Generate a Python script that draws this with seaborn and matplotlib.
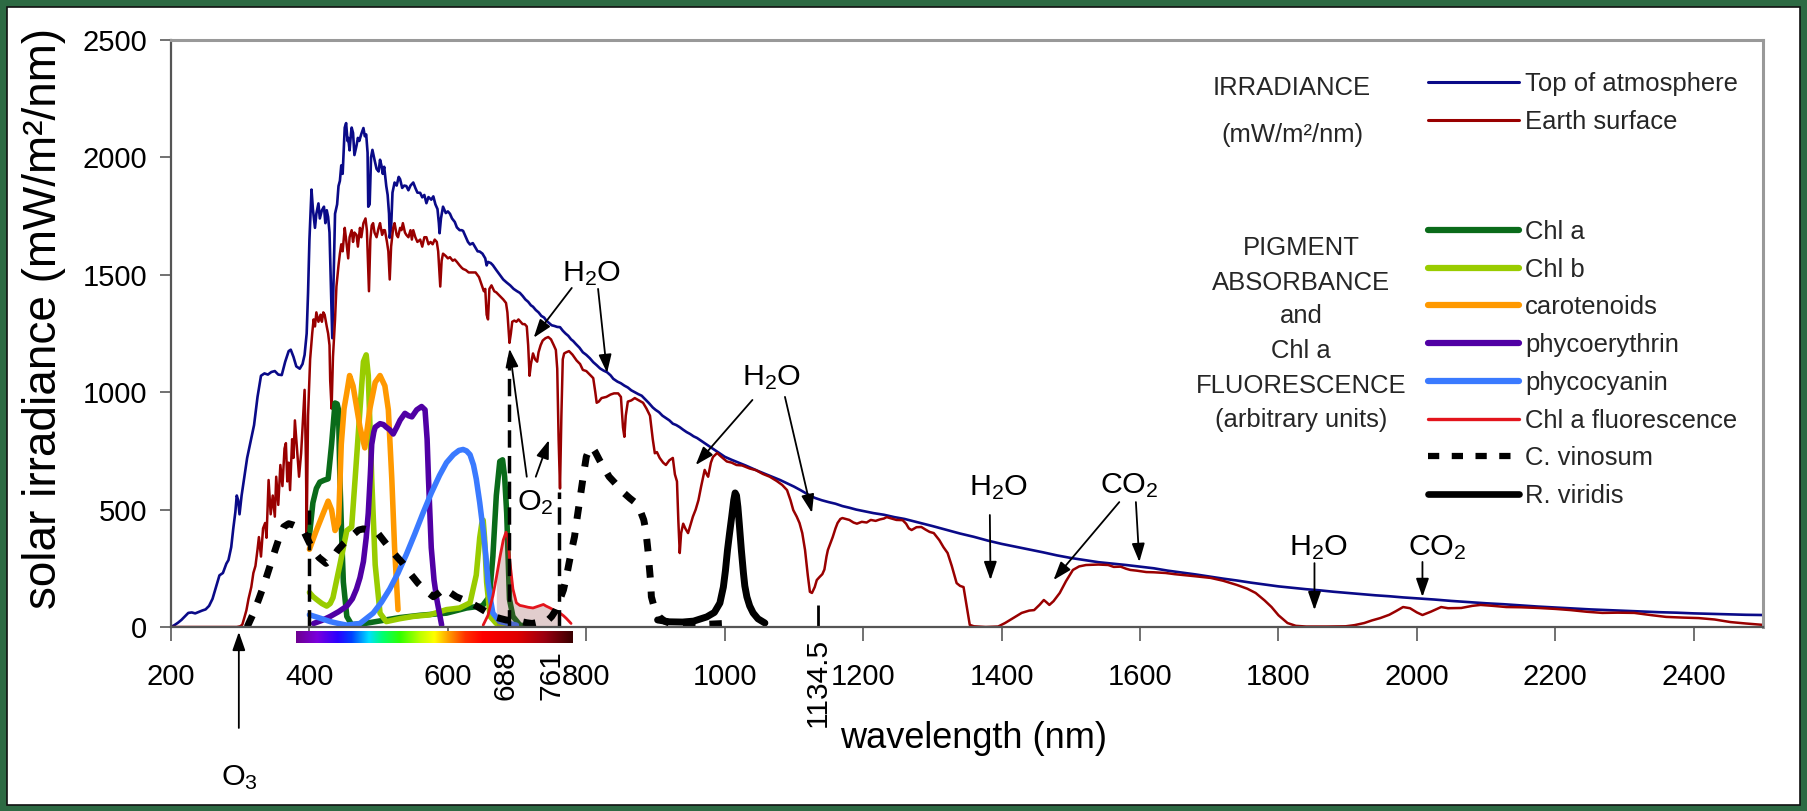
import matplotlib
matplotlib.use("Agg")
import matplotlib.pyplot as plt
from matplotlib import font_manager
from matplotlib.lines import Line2D
from matplotlib.patches import Rectangle
from matplotlib.colors import LinearSegmentedColormap
from matplotlib.transforms import offset_copy
import seaborn as sns
import numpy as np
import pandas as pd

W, H = 1807, 811

# ---------------- data (wavelength nm, value) ----------------
top_of_atmosphere = [
    (200, 0), (205, 8), (210, 18), (215, 30), (220, 45), (225, 60), (230, 62), (235, 58), (240, 64), (245, 70),
    (250, 75), (255, 90), (260, 120), (265, 170), (270, 220), (275, 230), (280, 270), (283, 285), (287, 340),
    (290, 420), (293, 490), (295, 560), (297, 540), (299, 480), (302, 560), (305, 620), (310, 720), (315, 790),
    (320, 860), (325, 980), (330, 1070), (335, 1080), (340, 1075), (345, 1086), (350, 1090), (355, 1075),
    (360, 1073), (365, 1130), (370, 1175), (373, 1181), (377, 1150), (381, 1110), (386, 1100), (390, 1120),
    (393, 1159), (396, 1250), (398, 1423), (400, 1650), (403, 1863), (405, 1780), (408, 1700), (410, 1760),
    (413, 1804), (415, 1740), (418, 1775), (421, 1790), (423, 1720), (425, 1775), (427, 1746), (429, 1680),
    (431, 1450), (433, 1230), (435, 1500), (437, 1760), (440, 1800), (442, 1878), (444, 1900), (446, 1966),
    (448, 1930), (450, 2060), (451, 2127), (453, 2146), (455, 2070), (456, 2083), (458, 2030), (460, 2100),
    (461, 2127), (463, 2104), (465, 2010), (466, 2024), (468, 2050), (470, 2083), (472, 2070), (475, 2100),
    (478, 2125), (480, 2090), (482, 2098), (484, 2020), (485, 1790), (487, 1800), (489, 2000), (491, 2032),
    (494, 1990), (497, 1951), (500, 1940), (502, 1990), (504, 1966), (506, 1930), (508, 1960), (511, 1878),
    (513, 1840), (515, 1760), (516, 1658), (518, 1700), (520, 1850), (523, 1893), (526, 1880), (529, 1917),
    (531, 1907), (534, 1870), (537, 1880), (540, 1878), (543, 1860), (546, 1880), (550, 1893), (553, 1870),
    (556, 1850), (560, 1849), (563, 1830), (566, 1840), (569, 1805), (572, 1831), (576, 1820), (579, 1834),
    (582, 1800), (585, 1780), (587, 1720), (588, 1677), (590, 1740), (593, 1790), (597, 1763), (600, 1770),
    (603, 1760), (606, 1740), (610, 1725), (613, 1702), (617, 1690), (620, 1690), (622, 1687), (626, 1660),
    (629, 1640), (632, 1629), (636, 1635), (640, 1615), (643, 1600), (646, 1599), (650, 1590), (654, 1570),
    (656, 1540), (658, 1555), (662, 1550), (665, 1541), (670, 1520), (675, 1500), (680, 1480), (685, 1467),
    (690, 1455), (695, 1440), (700, 1430), (704, 1423), (708, 1410), (712, 1395), (716, 1385), (720, 1370),
    (723, 1364), (727, 1350), (731, 1340), (735, 1325), (739, 1318), (742, 1306), (746, 1295), (750, 1285),
    (754, 1282), (758, 1278), (762, 1277), (766, 1262), (770, 1250), (774, 1240), (778, 1225), (781, 1218),
    (785, 1205), (790, 1190), (795, 1170), (800, 1159), (805, 1145), (810, 1128), (815, 1115), (820, 1101),
    (825, 1092), (830, 1085), (835, 1072), (839, 1057), (845, 1045), (850, 1038), (855, 1028), (860, 1020),
    (865, 1008), (870, 1000), (875, 992), (880, 985), (885, 970), (890, 955), (896, 935), (900, 925),
    (905, 915), (910, 900), (915, 890), (920, 880), (925, 866), (930, 860), (935, 851), (940, 840), (945, 830),
    (950, 822), (955, 812), (960, 805), (965, 795), (970, 785), (975, 775), (980, 765), (985, 755), (990, 745),
    (995, 735), (1000, 725), (1010, 712), (1020, 700), (1030, 688), (1040, 675), (1050, 662), (1060, 650),
    (1070, 638), (1080, 626), (1090, 612), (1100, 598), (1110, 582), (1120, 565), (1130, 550), (1140, 540),
    (1150, 532), (1160, 525), (1170, 515), (1180, 508), (1190, 500), (1200, 494), (1215, 485), (1230, 478),
    (1245, 468), (1260, 460), (1280, 445), (1300, 430), (1320, 414), (1340, 398), (1360, 384), (1380, 368),
    (1400, 354), (1420, 342), (1440, 330), (1460, 318), (1480, 305), (1500, 294), (1520, 285), (1540, 276),
    (1560, 270), (1580, 264), (1600, 257), (1620, 250), (1640, 240), (1660, 232), (1680, 224), (1700, 215),
    (1720, 206), (1740, 198), (1760, 189), (1780, 181), (1800, 173), (1820, 167), (1840, 161), (1860, 156),
    (1880, 150), (1900, 145), (1920, 140), (1940, 135), (1960, 131), (1980, 126), (2000, 122), (2025, 117),
    (2050, 111), (2075, 106), (2100, 101), (2125, 97), (2150, 92), (2175, 87), (2200, 83), (2225, 79),
    (2250, 75), (2275, 72), (2300, 69), (2325, 66), (2350, 63), (2375, 61), (2400, 58), (2425, 56),
    (2450, 54), (2475, 52), (2500, 51)]

earth_surface = [
    (200, 0), (295, 0), (300, 3), (303, 10), (306, 40), (309, 72), (312, 120), (316, 170), (319, 230),
    (322, 260), (325, 330), (327, 383), (330, 300), (333, 420), (336, 443), (338, 380), (341, 626), (344, 480),
    (347, 560), (350, 470), (352, 640), (355, 520), (358, 690), (361, 600), (364, 760), (366, 783), (368, 620),
    (370, 700), (372, 583), (375, 800), (377, 720), (379, 880), (382, 760), (385, 640), (388, 740), (391, 900),
    (393, 1010), (395, 700), (396, 400), (398, 900), (401, 1140), (404, 1250), (406, 1310), (408, 1280),
    (410, 1340), (413, 1300), (416, 1330), (418, 1300), (420, 1340), (422, 1330), (425, 1280), (427, 1250),
    (429, 1200), (430, 1050), (432, 930), (434, 1150), (437, 1310), (439, 1450), (442, 1540), (444, 1590),
    (446, 1630), (448, 1600), (451, 1700), (453, 1650), (456, 1570), (458, 1660), (461, 1690), (463, 1640),
    (465, 1680), (468, 1670), (470, 1620), (473, 1700), (475, 1660), (478, 1720), (481, 1740), (483, 1690),
    (486, 1430), (488, 1650), (490, 1710), (492, 1720), (494, 1680), (497, 1660), (500, 1700), (502, 1720),
    (505, 1670), (507, 1690), (509, 1690), (512, 1640), (514, 1600), (516, 1480), (518, 1620), (521, 1700),
    (523, 1720), (526, 1670), (528, 1660), (531, 1700), (533, 1690), (535, 1720), (538, 1680), (540, 1670),
    (543, 1660), (546, 1690), (548, 1650), (550, 1690), (553, 1660), (556, 1640), (560, 1650), (563, 1620),
    (566, 1660), (569, 1660), (572, 1630), (575, 1640), (578, 1630), (581, 1650), (584, 1640), (586, 1600),
    (589, 1450), (591, 1560), (593, 1590), (597, 1580), (600, 1570), (603, 1575), (607, 1560), (610, 1565),
    (613, 1555), (617, 1540), (620, 1530), (622, 1525), (626, 1520), (630, 1510), (635, 1510), (640, 1510),
    (645, 1490), (649, 1455), (652, 1430), (654, 1440), (656, 1330), (658, 1310), (660, 1440), (663, 1455),
    (667, 1430), (670, 1425), (675, 1410), (680, 1395), (684, 1380), (686, 1340), (688, 1250), (689, 1210),
    (691, 1250), (693, 1300), (696, 1305), (699, 1300), (702, 1310), (705, 1300), (708, 1290), (711, 1290),
    (714, 1280), (716, 1200), (718, 1070), (720, 1120), (723, 1165), (726, 1140), (729, 1130), (731, 1170),
    (734, 1200), (737, 1220), (741, 1230), (745, 1235), (749, 1225), (753, 1200), (756, 1180), (758, 1100),
    (760, 800), (762, 590), (764, 900), (766, 1140), (768, 1165), (771, 1170), (775, 1175), (780, 1160),
    (786, 1135), (791, 1120), (795, 1095), (800, 1090), (805, 1075), (810, 1060), (813, 1000), (815, 955),
    (818, 960), (822, 975), (829, 980), (835, 990), (840, 995), (846, 995), (850, 980), (853, 850), (855, 810),
    (857, 900), (860, 960), (865, 965), (870, 975), (876, 965), (882, 955), (887, 930), (892, 900), (896, 800),
    (899, 740), (902, 745), (906, 720), (911, 700), (915, 690), (920, 710), (925, 720), (928, 650), (931, 620),
    (933, 450), (935, 315), (937, 400), (940, 440), (943, 420), (947, 400), (950, 430), (954, 470), (958, 500),
    (962, 540), (966, 600), (971, 669), (974, 650), (976, 640), (980, 700), (983, 724), (989, 741), (995, 725),
    (1003, 705), (1010, 700), (1017, 690), (1025, 688), (1036, 675), (1045, 668), (1055, 652), (1065, 640),
    (1075, 622), (1083, 605), (1090, 583), (1095, 540), (1099, 498), (1104, 470), (1108, 443), (1112, 400),
    (1116, 328), (1120, 220), (1123, 150), (1126, 145), (1130, 170), (1133, 200), (1137, 213), (1141, 225),
    (1144, 245), (1147, 300), (1149, 328), (1153, 360), (1156, 383), (1160, 420), (1163, 443), (1167, 460),
    (1170, 464), (1175, 460), (1180, 456), (1186, 445), (1191, 440), (1198, 448), (1205, 445), (1211, 456),
    (1218, 452), (1224, 458), (1230, 462), (1234, 468), (1240, 463), (1248, 456), (1257, 455), (1262, 440),
    (1266, 420), (1270, 413), (1277, 425), (1284, 426), (1290, 415), (1296, 405), (1302, 400), (1310, 370),
    (1316, 340), (1322, 315), (1328, 260), (1335, 187), (1340, 175), (1345, 170), (1350, 80), (1354, 9),
    (1360, 3), (1377, 0), (1395, 2), (1405, 17), (1418, 40), (1429, 60), (1440, 70), (1447, 72), (1455, 95),
    (1461, 115), (1465, 105), (1469, 94), (1475, 110), (1484, 145), (1493, 195), (1503, 243), (1512, 258),
    (1522, 264), (1540, 266), (1554, 264), (1562, 256), (1572, 257), (1580, 248), (1586, 243), (1595, 240),
    (1602, 237), (1609, 234), (1620, 233), (1637, 230), (1650, 225), (1664, 221), (1680, 216), (1702, 209),
    (1720, 197), (1740, 179), (1755, 163), (1767, 145), (1780, 113), (1790, 85), (1800, 50), (1813, 17),
    (1825, 5), (1840, 2), (1870, 2), (1897, 3), (1910, 8), (1924, 17), (1935, 28), (1947, 38), (1960, 52),
    (1970, 68), (1980, 85), (1990, 80), (2000, 62), (2008, 51), (2020, 65), (2035, 85), (2045, 80),
    (2064, 81), (2080, 90), (2092, 94), (2110, 90), (2129, 85), (2150, 84), (2176, 81), (2200, 77),
    (2222, 72), (2245, 65), (2268, 60), (2290, 61), (2314, 60), (2340, 50), (2360, 43), (2385, 40),
    (2407, 38), (2430, 32), (2453, 21), (2475, 15), (2500, 9)]

chl_a = [
    (400, 389), (405, 529), (410, 590), (415, 617), (421, 625), (427, 631), (432, 778), (437, 954), (440, 950),
    (442, 925), (444, 631), (447, 350), (449, 191), (454, 45), (461, 10), (480, 15), (500, 25), (530, 40),
    (560, 50), (598, 59), (627, 81), (650, 90), (660, 130), (665, 300), (670, 560), (675, 705), (679, 712),
    (682, 640), (685, 485), (689, 118), (694, 45), (704, 8), (712, 5)]

chl_b = [
    (400, 147), (405, 130), (410, 118), (418, 100), (425, 89), (430, 100), (434, 125), (444, 265), (454, 411),
    (461, 426), (466, 631), (473, 925), (478, 1130), (482, 1159), (485, 1071), (490, 631), (495, 265),
    (502, 59), (511, 23), (530, 35), (550, 45), (574, 52), (598, 74), (617, 81), (632, 103), (641, 221),
    (646, 380), (649, 441), (651, 455), (653, 380), (656, 191), (661, 45), (670, 15), (690, 8)]

carotenoids = [
    (400, 331), (410, 411), (420, 485), (427, 536), (432, 499), (437, 411), (442, 441), (446, 778),
    (450, 930), (454, 998), (458, 1071), (463, 1027), (468, 940), (473, 851), (480, 763), (487, 925),
    (495, 1042), (502, 1071), (509, 1027), (514, 925), (519, 631), (523, 338), (528, 74)]

phycoerythrin = [
    (406, 15), (418, 28), (430, 45), (442, 65), (454, 89), (462, 120), (468, 162), (473, 210), (478, 279),
    (482, 380), (485, 485), (488, 650), (490, 778), (493, 830), (495, 851), (502, 866), (507, 862),
    (511, 851), (516, 840), (521, 822), (526, 850), (531, 881), (538, 910), (543, 900), (548, 895),
    (555, 925), (562, 939), (567, 925), (570, 800), (572, 631), (576, 338), (580, 200), (584, 118),
    (591, 8)]

phycocyanin = [
    (400, 52), (415, 38), (430, 23), (442, 15), (454, 8), (473, 15), (492, 59), (504, 105), (516, 162),
    (528, 230), (540, 309), (552, 395), (564, 485), (576, 570), (588, 646), (598, 700), (608, 734),
    (616, 752), (622, 756), (627, 750), (632, 734), (637, 690), (641, 631), (646, 530), (651, 411),
    (655, 300), (658, 191), (662, 110), (665, 59), (675, 23), (699, 8)]

chl_a_fluorescence = [
    (651, 8), (658, 50), (665, 132), (670, 210), (675, 294), (680, 370), (684, 404), (687, 380), (689, 294),
    (692, 215), (694, 162), (699, 103), (704, 92), (709, 89), (716, 84), (723, 81), (730, 88), (738, 96),
    (742, 89), (747, 82), (752, 74), (757, 66), (762, 59), (767, 48), (771, 37), (778, 15)]

c_vinosum = [
    (310, 0), (319, 58), (327, 120), (335, 186), (343, 260), (352, 342), (358, 395), (363, 427), (370, 440),
    (377, 434), (384, 425), (391, 413), (398, 370), (405, 328), (414, 295), (424, 271), (432, 290),
    (441, 328), (450, 358), (460, 385), (471, 413), (478, 418), (485, 413), (492, 408), (499, 399),
    (508, 365), (518, 328), (526, 300), (535, 271), (545, 230), (557, 186), (568, 155), (579, 129),
    (587, 145), (595, 165), (604, 145), (612, 129), (623, 115), (634, 101), (642, 88), (651, 72), (659, 58),
    (667, 44), (676, 36), (684, 30), (695, 26), (706, 23), (714, 18), (722, 15), (733, 22), (745, 30),
    (750, 45), (756, 72), (761, 110), (767, 158), (771, 210), (775, 271), (779, 330), (783, 385), (787, 470),
    (792, 569), (796, 650), (800, 725), (804, 755), (808, 768), (813, 745), (819, 711), (826, 675),
    (833, 640), (844, 605), (855, 569), (863, 548), (872, 527), (878, 495), (883, 456), (886, 410),
    (888, 356), (890, 300), (891, 257), (893, 190), (894, 129), (898, 85), (905, 44), (913, 25), (921, 15),
    (943, 13), (971, 11), (999, 15)]

r_viridis = [
    (903, 30), (920, 22), (939, 21), (955, 25), (974, 43), (985, 62), (993, 102), (998, 170), (1001, 240),
    (1004, 328), (1007, 400), (1010, 468), (1013, 540), (1015, 571), (1017, 560), (1019, 511), (1021, 440),
    (1024, 328), (1027, 230), (1029, 175), (1032, 128), (1036, 90), (1041, 60), (1048, 35), (1058, 17)]

x_ticks = [200, 400, 600, 800, 1000, 1200, 1400, 1600, 1800, 2000, 2200, 2400]
y_ticks = [0, 500, 1000, 1500, 2000, 2500]
marked_nm = ["688", "761", "1134.5"]
vline_nm = [400, 688, 761]
vline_top = [500, 1150, 575]
spectrum_nm = [380, 410, 440, 460, 485, 505, 530, 560, 580, 600, 625, 650, 700, 740, 780]
spectrum_colors = ["#6e0090", "#7a00dd", "#2a00ff", "#0040ff", "#00e0ff", "#00ff70", "#30ff00", "#c0ff00",
                   "#ffff00", "#ffa000", "#ff3000", "#ff0000", "#e00000", "#9a0010", "#3a0000"]

irr_labels = ["Top of atmosphere", "Earth surface"]
pig_labels = ["Chl a", "Chl b", "carotenoids", "phycoerythrin", "phycocyanin",
              "Chl a fluorescence", "C. vinosum", "R. viridis"]

# ---------------- style ----------------
sns.set_theme(style="white")
names = {f.name for f in font_manager.fontManager.ttflist}
NARROW = "Liberation Sans Narrow" in names
HF = "Liberation Sans Narrow" if NARROW else "Liberation Sans"
K = 1.0 if NARROW else 0.84
plt.rcParams["font.family"] = [HF, "DejaVu Sans"]
plt.rcParams["mathtext.fontset"] = "custom"
plt.rcParams["mathtext.rm"] = HF
plt.rcParams["mathtext.it"] = HF
plt.rcParams["mathtext.bf"] = HF

C_TOA, C_SURF = "#0a0a88", "#990000"
C_CHLA, C_CHLB, C_CAR = "#0a6b1a", "#99cc00", "#ff9900"
C_PE, C_PC, C_FL = "#5000a4", "#3a7aff", "#e3141c"
DOT = (0, (1.8, 2.0))
DASH = (0, (5, 2.4))


def FX(px):
    return px / W


def FY(py):
    return 1 - py / H


fig = plt.figure(figsize=(W / 100, H / 100), dpi=100)
fig.patch.set_facecolor("#2d6a43")
fig.add_artist(Rectangle((FX(7), FY(805)), (1800 - 7) / W, (805 - 7) / H, transform=fig.transFigure,
                         facecolor="white", edgecolor="#111111", lw=1.2, zorder=-1))
ax = fig.add_axes([FX(171), FY(627), (1763 - 171) / W, (627 - 40) / H])
ax.set_facecolor("white")


def draw(pairs, color, lw, z, ls=None):
    df = pd.DataFrame(pairs, columns=["nm", "val"])
    sns.lineplot(data=df, x="nm", y="val", ax=ax, color=color, linewidth=lw, sort=False,
                 estimator=None, zorder=z)
    ln = ax.lines[-1]
    if ls is not None:
        ln.set_linestyle(ls)
        ln.set_dash_capstyle("butt")
    return df


draw(top_of_atmosphere, C_TOA, 1.9, 2)
draw(earth_surface, C_SURF, 1.8, 2.1)
draw(chl_a, C_CHLA, 4.0, 3)
draw(chl_b, C_CHLB, 4.0, 3.1)
draw(carotenoids, C_CAR, 4.0, 3.2)
draw(phycoerythrin, C_PE, 4.0, 3.3)
draw(phycocyanin, C_PC, 4.0, 3.4)
fl = draw(chl_a_fluorescence, C_FL, 2.0, 3.6)
mask = (fl["nm"] >= 668) & (fl["nm"] <= 762)
ax.fill_between(fl["nm"][mask], 0, fl["val"][mask], color="#8a3a3a", alpha=0.25, lw=0, zorder=3.5)
draw(c_vinosum, "black", 5.0, 4, ls=DOT)
draw(r_viridis, "black", 5.0, 4.1)

ax.vlines(vline_nm, 0, vline_top, colors="black", linestyles=[DASH], lw=2.5, zorder=4.5)
ax.vlines([float(marked_nm[2])], 0, 92, colors="black", lw=2.0, zorder=4.5)

ax.set_xlim(200, 2500)
ax.set_ylim(0, 2500)
ax.set_xticks(x_ticks)
ax.set_yticks(y_ticks)
ax.tick_params(axis="x", bottom=True, direction="out", length=10, width=1.3, color="#666666", pad=16,
               labelsize=25 * K, labelcolor="black")
ax.tick_params(axis="y", left=True, direction="out", length=8, width=1.3, color="#666666", pad=9,
               labelsize=25 * K, labelcolor="black")
for s in ["top", "right"]:
    ax.spines[s].set_color("#999999")
    ax.spines[s].set_linewidth(2.2)
for s in ["left", "bottom"]:
    ax.spines[s].set_color("#555555")
    ax.spines[s].set_linewidth(1.6)
ax.spines["bottom"].set_zorder(5)

ax.set_xlabel("wavelength (nm)", fontsize=31 * K, color="black")
ax.xaxis.set_label_coords(0.504, -0.160)
ax.set_ylabel("solar irradiance (mW/m²/nm)", fontsize=33, fontfamily="Liberation Sans", color="black")
ax.yaxis.set_label_coords(-0.066, 0.526)

# special rotated wavelength labels (shifted slightly left as in the reference)
xt = ax.get_xaxis_transform()
for lbl, ytop, dx in zip(marked_nm, [-0.039, -0.039, -0.0187], [-3, -8, 0]):
    ax.text(float(lbl), ytop, lbl, transform=offset_copy(xt, fig=fig, x=dx, units="dots"), rotation=90,
            ha="center", va="top", fontsize=21.5, fontfamily="Liberation Sans", color="black")

# visible spectrum bar
cmap = LinearSegmentedColormap.from_list(
    "vis", [((n - spectrum_nm[0]) / (spectrum_nm[-1] - spectrum_nm[0]), c) for n, c in zip(spectrum_nm, spectrum_colors)])
cax = ax.inset_axes([spectrum_nm[0], -0.0273, spectrum_nm[-1] - spectrum_nm[0], 0.0205], transform=xt)
cax.imshow(np.linspace(0, 1, 512)[None, :], aspect="auto", cmap=cmap)
cax.set_axis_off()

# annotations
AP = dict(arrowstyle="-|>,head_length=0.8,head_width=0.28", mutation_scale=14, lw=1.3, color="black",
          shrinkA=0, shrinkB=0)
H2O = "H$_\\mathrm{2}$O"
CO2 = "CO$_\\mathrm{2}$"
annotations = [
    (H2O, 807, 1474, [((779, 1444), (724, 1232)), ((817, 1440), (830, 1082))]),
    (H2O, 1067, 1031, [((1040, 967), (958, 690)), ((1087, 980), (1126, 486))]),
    ("O$_\\mathrm{2}$", 726, 498, [((714, 640), (689, 1185)), ((727, 640), (746, 796))]),
    (H2O, 1396, 562, [((1383, 477), (1384, 200))]),
    (CO2, 1585, 571, [((1570, 532), (1475, 200)), ((1594, 532), (1599, 277))]),
    (H2O, 1858, 307, [((1852, 272), (1852, 72))]),
    (CO2, 2030, 307, [((2008, 277), (2008, 128))]),
    ("O$_\\mathrm{3}$", 299, -673, [((298, -430), (298, -21))]),
]
for txt, tx, ty, arrows in annotations:
    ax.text(tx, ty, txt, ha="center", va="baseline", fontsize=26 * K, color="black", zorder=6, clip_on=False)
    for tail, tip in arrows:
        ax.annotate("", xy=tip, xytext=tail, arrowprops=AP, annotation_clip=False, zorder=6)

# side texts
fs = 22 * K
fig.text(FX(1292), FY(95), "IRRADIANCE", ha="center", va="baseline", fontsize=fs)
fig.text(FX(1292), FY(142), "(mW/m²/nm)", ha="center", va="baseline", fontsize=fs)
for t, yb in zip(["PIGMENT", "ABSORBANCE", "and", "Chl a", "FLUORESCENCE", "(arbitrary units)"],
                 [255, 290, 323, 358, 393, 427]):
    fig.text(FX(1301), FY(yb), t, ha="center", va="baseline", fontsize=fs)

# legends
fs_px = fs * 100 / 72
common = dict(frameon=False, fontsize=fs, handlelength=91 / fs_px, handletextpad=6 / fs_px,
              borderpad=0, borderaxespad=0, loc="upper left", bbox_transform=fig.transFigure,
              labelspacing=0.535)
irr_handles = [Line2D([], [], color=C_TOA, lw=2.2), Line2D([], [], color=C_SURF, lw=2.2)]
leg1 = ax.legend(irr_handles, irr_labels, bbox_to_anchor=(FX(1428), FY(72)), **common)
ax.add_artist(leg1)
pig_handles = [Line2D([], [], color=C_CHLA, lw=4.5), Line2D([], [], color=C_CHLB, lw=4.5),
               Line2D([], [], color=C_CAR, lw=4.5), Line2D([], [], color=C_PE, lw=4.5),
               Line2D([], [], color=C_PC, lw=4.5), Line2D([], [], color=C_FL, lw=2.4),
               Line2D([], [], color="black", lw=4.5, linestyle=DOT, dash_capstyle="butt"),
               Line2D([], [], color="black", lw=4.8)]
ax.legend(pig_handles, pig_labels, bbox_to_anchor=(FX(1428), FY(220)), **common)

fig.savefig("out.png", dpi=100, facecolor=fig.get_facecolor())
